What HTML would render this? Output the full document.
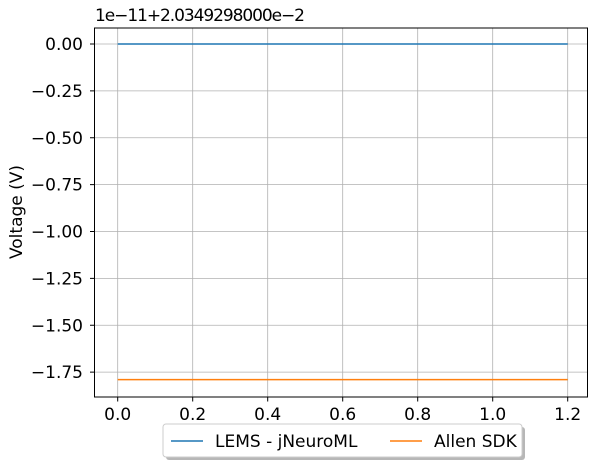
<!DOCTYPE html>
<html><head><meta charset="utf-8"><style>
body{margin:0;background:#fff;font-family:"Liberation Sans","DejaVu Sans",sans-serif}
</style></head><body>
<svg width="600" height="465" viewBox="0 0 600 465" font-family="DejaVu Sans, Liberation Sans, sans-serif">
<g id="grid"></g>
<g id="series"></g>
<rect x="94.5" y="28" width="493" height="369" fill="none" stroke="#000" stroke-width="1"/>
<g id="ticks" font-size="17" fill="#000"></g>
<text x="95" y="21" font-size="17" textLength="210">1e−11+2.0349298000e−2</text>
<text transform="translate(22,212) rotate(-90)" font-size="17" text-anchor="middle">Voltage (V)</text>
<g>
<rect x="166" y="427" width="359" height="33" rx="3" fill="#999" opacity="0.7"/>
<rect x="163" y="424" width="359" height="33" rx="3" fill="#fff" stroke="#ccc"/>
<line x1="171" y1="441" x2="203" y2="441" stroke="#1f77b4" stroke-width="1.5"/>
<text x="215" y="447" font-size="17">LEMS - jNeuroML</text>
<line x1="390" y1="441" x2="422" y2="441" stroke="#ff7f0e" stroke-width="1.5"/>
<text x="434" y="447" font-size="17">Allen SDK</text>
</g>
</svg>
<script>
const xTicks=[0,0.2,0.4,0.6,0.8,1.0,1.2];
const yTicks=[0,-0.25,-0.5,-0.75,-1.0,-1.25,-1.5,-1.75];
const seriesNames=["LEMS - jNeuroML","Allen SDK"];
const seriesX=[0,1.2];
const lemsValues=[0,0];
const allenValues=[-1.79,-1.79];
const colors=["#1f77b4","#ff7f0e"];
const X=v=>117.7+v*375;
const Y=v=>44-v*187.5;
const ns="http://www.w3.org/2000/svg";
const grid=document.getElementById('grid'),ticks=document.getElementById('ticks'),series=document.getElementById('series');
function mk(tag,attrs,parent){const e=document.createElementNS(ns,tag);for(const k in attrs)e.setAttribute(k,attrs[k]);parent.appendChild(e);return e;}
xTicks.forEach(t=>{
 const g=mk('line',{x1:X(t),x2:X(t),y1:28,y2:397,stroke:'#b0b0b0','stroke-width':0.8},grid);
 
 
 mk('line',{x1:X(t),x2:X(t),y1:397,y2:401.5,stroke:'#000'},ticks);
 const tx=mk('text',{x:X(t),y:420,'text-anchor':'middle'},ticks);tx.textContent=t.toFixed(1);
 
 
});
yTicks.forEach(t=>{
 const g=mk('line',{x1:94.5,x2:587.5,y1:Y(t),y2:Y(t),stroke:'#b0b0b0','stroke-width':0.8},grid);
 
 
 mk('line',{x1:90,x2:94.5,y1:Y(t),y2:Y(t),stroke:'#000'},ticks);
 const tx=mk('text',{x:83,y:Y(t)+6,'text-anchor':'end'},ticks);tx.textContent=(t<0?'−':'')+Math.abs(t).toFixed(2);
 
 
});
[lemsValues,allenValues].forEach((vals,i)=>{
 const p=mk('polyline',{points:seriesX.map((x,j)=>X(x)+','+Y(vals[j])).join(' '),fill:'none',stroke:colors[i],'stroke-width':1.5},series);
 
 
});
</script>
</body></html>
